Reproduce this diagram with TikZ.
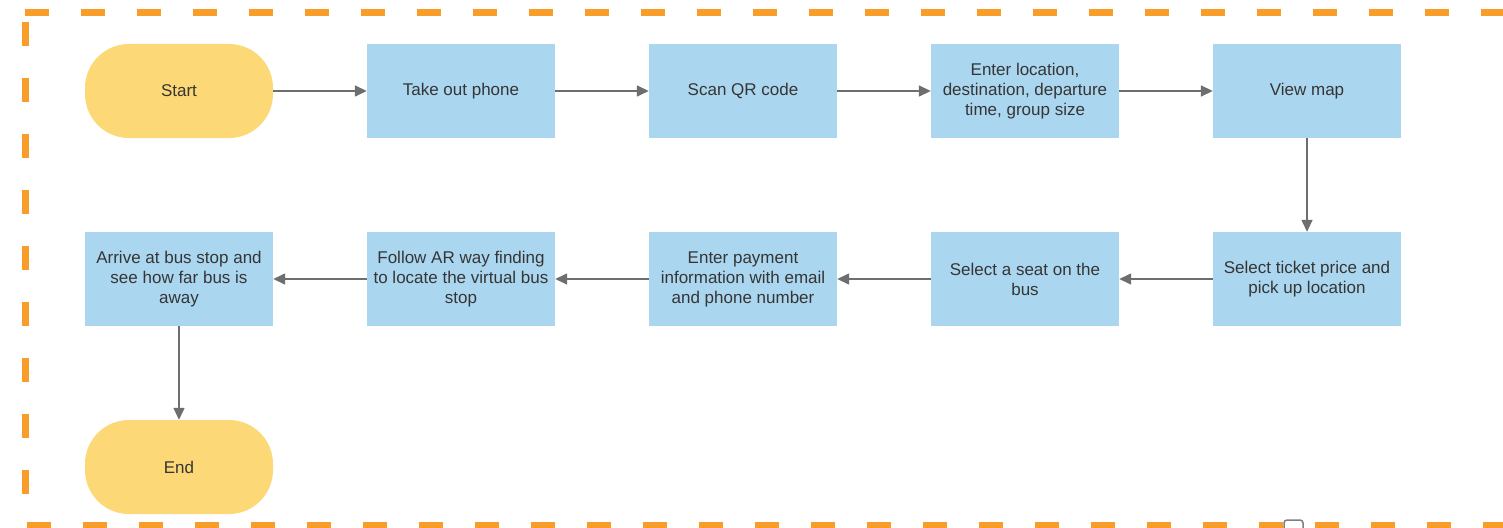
\documentclass[tikz,border=0pt]{standalone}
\usepackage{fontspec}
\setmainfont{Liberation Sans}
\usetikzlibrary{arrows.meta}
\definecolor{stepblue}{HTML}{ABD6EF}
\definecolor{termyellow}{HTML}{FDD877}
\definecolor{frameorange}{HTML}{F89C2A}
\definecolor{txtgray}{HTML}{353535}
\definecolor{linkgray}{HTML}{6E6E6E}
\tikzset{
  stepbox/.style={rectangle, fill=stepblue, minimum width=188pt, minimum height=94pt,
    inner sep=0pt, align=center, text=txtgray, font=\fontsize{17}{20}\selectfont},
  termbox/.style={rectangle, rounded corners=44pt, fill=termyellow, minimum width=188pt,
    minimum height=94pt, inner sep=0pt, align=center, text=txtgray,
    font=\fontsize{17}{20}\selectfont},
  link/.style={draw=linkgray, line width=1.5pt, -{Triangle[length=12pt,width=11pt]}},
  frame/.style={draw=frameorange, line width=7pt, dash pattern=on 24pt off 32pt}
}
\begin{document}
\begin{tikzpicture}[x=1pt,y=-1pt]
  \fill[white] (0,0) rectangle (1503,527);
  \useasboundingbox (0,0) rectangle (1503,527);
  \begin{scope}
    \clip (0,0) rectangle (1503,527);
    % dashed frame
    \draw[frame] (25,12.5) -- (1560,12.5);
    \draw[frame] (25.5,22) -- (25.5,520);
    \draw[frame] (27,525.5) -- (1560,525.5);
    % small handle on the frame
    \draw[draw=gray, fill=white, line width=1.5pt, rounded corners=3pt]
      (1284,520) rectangle (1303,535);
  \end{scope}

  % first row
  \node[termbox] (start) at (179,91) {Start};
  \node[stepbox] (phone) at (461,91) {Take out phone};
  \node[stepbox] (scan)  at (743,91) {Scan QR code};
  \node[stepbox] (enter) at (1025,91) {Enter location,\\destination, departure\\time, group size};
  \node[stepbox] (map)   at (1307,91) {View map};

  % second row
  \node[stepbox] (ticket) at (1307,279) {Select ticket price and\\pick up location};
  \node[stepbox] (seat)   at (1025,279) {Select a seat on the\\bus};
  \node[stepbox] (pay)    at (743,279) {Enter payment\\information with email\\and phone number};
  \node[stepbox] (ar)     at (461,279) {Follow AR way finding\\to locate the virtual bus\\stop};
  \node[stepbox] (arrive) at (179,279) {Arrive at bus stop and\\see how far bus is\\away};

  % last row
  \node[termbox] (end) at (179,467) {End};

  % connectors
  \draw[link] (start) -- (phone);
  \draw[link] (phone) -- (scan);
  \draw[link] (scan) -- (enter);
  \draw[link] (enter) -- (map);
  \draw[link] (map) -- (ticket);
  \draw[link] (ticket) -- (seat);
  \draw[link] (seat) -- (pay);
  \draw[link] (pay) -- (ar);
  \draw[link] (ar) -- (arrive);
  \draw[link] (arrive) -- (end);
\end{tikzpicture}
\end{document}
